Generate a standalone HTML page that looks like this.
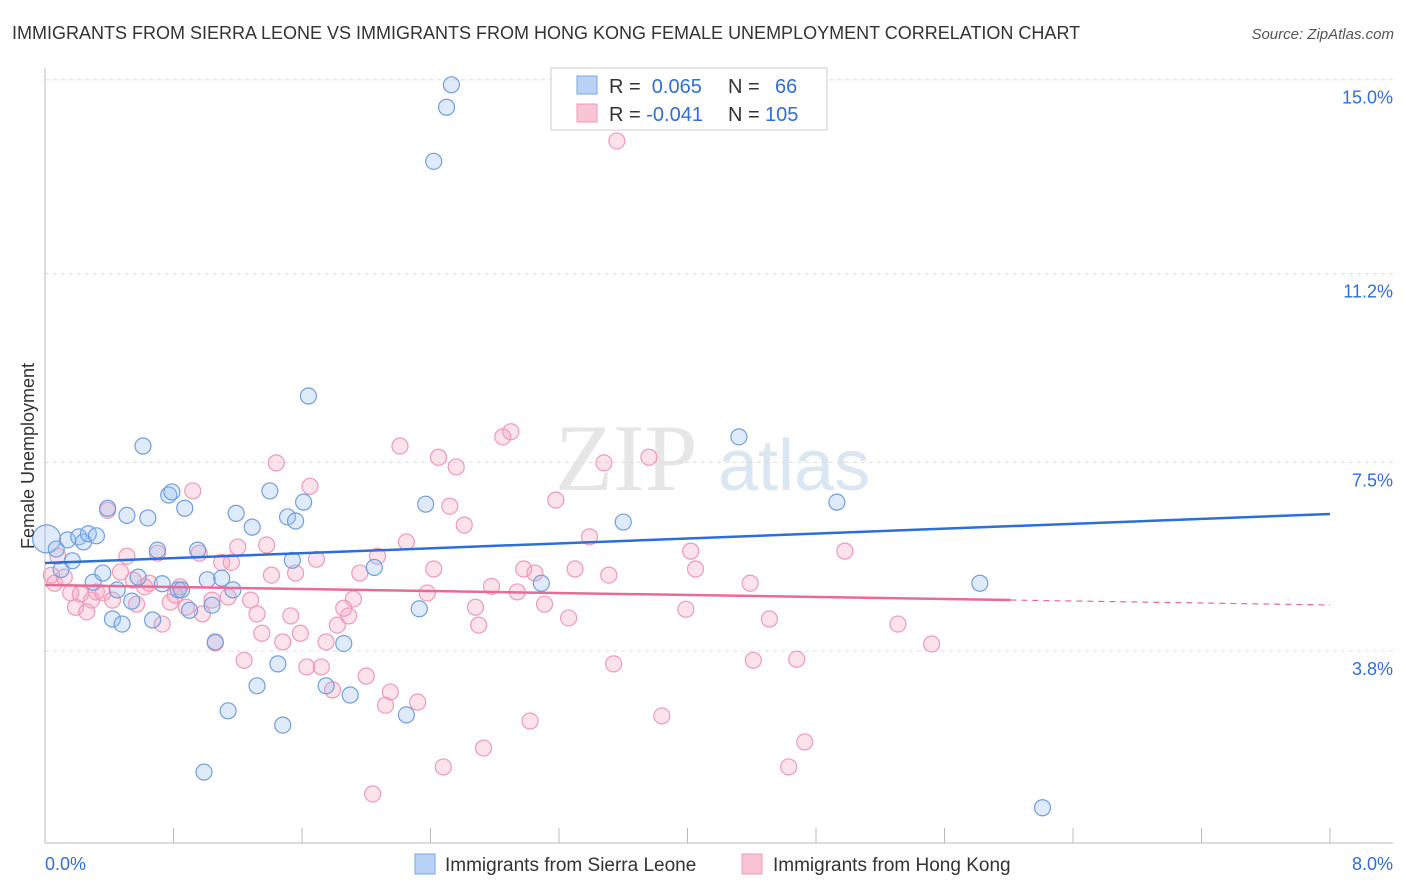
<!DOCTYPE html>
<html><head><meta charset="utf-8">
<style>
body{margin:0;background:#fff;font-family:"Liberation Sans",sans-serif;}
svg{display:block}
</style></head>
<body>
<svg id="chart" width="1406" height="892" xmlns="http://www.w3.org/2000/svg" font-family="Liberation Sans, sans-serif">
<text x="12" y="39" font-size="18" fill="#333">IMMIGRANTS FROM SIERRA LEONE VS IMMIGRANTS FROM HONG KONG FEMALE UNEMPLOYMENT CORRELATION CHART</text>
<text x="1394" y="39" font-size="15" fill="#555" text-anchor="end" font-style="italic">Source: ZipAtlas.com</text>
<text x="555" y="490" font-size="95" fill="#e6e6e6" font-family="Liberation Serif, serif">ZIP</text>
<text x="718" y="490" font-size="72" fill="#dbe6f3">atlas</text>
<g id="grid"></g>
<g id="axes"></g>
<g id="pink-points"></g>
<g id="blue-points"></g>
<g id="lines"></g>
<text transform="translate(34,456) rotate(-90)" font-size="18" fill="#333" text-anchor="middle">Female Unemployment</text>
<g>
<rect x="551" y="68" width="276" height="62" fill="#fff" stroke="#ccc"/>
<rect x="577" y="76" width="20" height="18" fill="#b8d3f5" stroke="#7aa7e0"/>
<rect x="577" y="104" width="20" height="18" fill="#f9c5d4" stroke="#f09ab5"/>
<text x="609" y="93" font-size="20" fill="#333">R = <tspan fill="#2f6fd6">&#160;0.065</tspan><tspan x="728">N = </tspan><tspan x="775" fill="#2f6fd6">66</tspan></text>
<text x="609" y="121" font-size="20" fill="#333">R = <tspan fill="#2f6fd6">-0.041</tspan><tspan x="728">N = </tspan><tspan x="765" fill="#2f6fd6">105</tspan></text>
</g>
<g>
<rect x="415" y="854" width="20" height="20" fill="#b8d3f5" stroke="#7aa7e0"/>
<text x="445" y="871" font-size="19" fill="#333">Immigrants from Sierra Leone</text>
<rect x="742" y="854" width="20" height="20" fill="#f9c5d4" stroke="#f09ab5"/>
<text x="773" y="871" font-size="19" fill="#333">Immigrants from Hong Kong</text>
</g>
</svg>
<script>
const yTicks=[3.8,7.5,11.2,15.0];
const yTickLabels=["3.8%","7.5%","11.2%","15.0%"];
const xTicks=[0,0.8,1.6,2.4,3.2,4.0,4.8,5.6,6.4,7.2,8.0];
const blueX=[0.01,0.07,0.1,0.14,0.17,0.21,0.24,0.27,0.32,0.30,0.36,0.39,0.42,0.45,0.48,0.51,0.54,0.58,0.61,0.64,0.67,0.70,0.73,0.77,0.79,0.83,0.85,0.87,0.90,0.95,0.99,1.01,1.04,1.06,1.10,1.14,1.17,1.19,1.29,1.32,1.40,1.45,1.48,1.51,1.54,1.56,1.61,1.64,1.75,1.86,1.90,2.05,2.25,2.33,2.37,2.42,2.50,2.53,3.09,3.60,4.32,4.93,5.82,6.21];
const blueY=[6.0,5.8,5.4,5.98,5.57,6.04,5.94,6.1,6.06,5.15,5.33,6.6,4.43,5.0,4.33,6.46,4.78,5.25,7.82,6.41,4.41,5.78,5.12,6.86,6.92,5.0,5.0,6.6,4.6,5.78,1.43,5.2,4.7,3.98,5.23,2.63,5.0,6.5,6.23,3.12,6.94,3.55,2.35,6.43,5.58,6.35,6.72,8.8,3.12,3.95,2.94,5.44,2.55,4.63,6.68,13.4,14.46,14.9,5.13,6.33,8.0,6.72,5.13,0.73];
const pinkX=[0.04,0.06,0.08,0.12,0.16,0.19,0.22,0.26,0.29,0.32,0.36,0.39,0.42,0.47,0.51,0.55,0.57,0.62,0.65,0.70,0.73,0.78,0.81,0.84,0.88,0.92,0.96,0.98,1.04,1.06,1.10,1.14,1.16,1.20,1.24,1.28,1.32,1.35,1.38,1.41,1.44,1.48,1.53,1.56,1.59,1.63,1.65,1.69,1.72,1.75,1.79,1.82,1.86,1.89,1.92,1.96,2.00,2.04,2.07,2.12,2.15,2.21,2.25,2.32,2.38,2.42,2.45,2.48,2.52,2.56,2.61,2.68,2.70,2.73,2.78,2.85,2.90,2.94,2.98,3.02,3.05,3.11,3.18,3.26,3.30,3.39,3.48,3.51,3.54,3.56,3.76,3.84,3.99,4.02,4.05,4.39,4.41,4.51,4.63,4.68,4.73,4.98,5.31,5.52];
const pinkY=[5.29,5.13,5.66,5.25,4.94,4.66,4.92,4.57,4.8,4.96,4.94,6.56,4.8,5.35,5.66,5.19,4.72,5.06,5.13,5.72,4.33,4.76,4.9,5.06,4.66,6.94,5.72,4.53,4.8,3.96,5.54,4.86,5.54,5.84,3.62,4.8,4.53,4.15,5.88,5.29,7.49,3.98,4.49,5.33,4.15,3.49,7.03,5.6,3.49,3.98,3.04,4.31,4.64,4.49,4.82,5.33,3.31,1.0,5.66,2.74,3.0,7.82,5.94,2.8,4.94,5.41,7.6,1.53,6.64,7.41,6.27,4.66,4.31,1.9,5.07,8.0,8.1,4.96,5.41,2.43,5.33,4.72,6.76,4.45,5.41,6.04,7.49,5.29,3.55,13.8,7.6,2.53,4.62,5.76,5.41,5.13,3.62,4.43,1.53,3.64,2.02,5.76,4.33,3.94];
const blueTrend=[5.527,6.488];
const pinkTrend=[5.096,4.704];
const NS="http://www.w3.org/2000/svg";
const X0=45,X1=1330,Y0=845,PXY=51.02;
const xs=v=>X0+(v/8)*(X1-X0);
const ys=v=>Y0-v*PXY;
function mk(tag,attrs,parent){const e=document.createElementNS(NS,tag);for(const k in attrs)e.setAttribute(k,attrs[k]);parent.appendChild(e);return e;}
const grid=document.getElementById('grid'),axes=document.getElementById('axes');
yTicks.forEach((t,i)=>{
 const l=mk('line',{x1:45,x2:1393,y1:ys(t),y2:ys(t),stroke:'#ddd','stroke-dasharray':'4,4'},grid);
 
 
 const tx=mk('text',{x:1393,y:ys(t)+24,'font-size':18,fill:'#2f6fd6','text-anchor':'end'},axes);
 tx.textContent=yTickLabels[i];
 
 
});
const ax=mk('line',{x1:45,x2:45,y1:68,y2:843,stroke:'#bbb'},axes);


const bx=mk('line',{x1:45,x2:1393,y1:843,y2:843,stroke:'#bbb'},axes);


xTicks.forEach(t=>{
 const l=mk('line',{x1:xs(t),x2:xs(t),y1:828,y2:843,stroke:'#bbb'},axes);
 
 
});
const xl0=mk('text',{x:45,y:870,'font-size':18,fill:'#2f6fd6'},axes);xl0.textContent='0.0%';


const xl1=mk('text',{x:1393,y:870,'font-size':18,fill:'#2f6fd6','text-anchor':'end'},axes);xl1.textContent='8.0%';


const pp=document.getElementById('pink-points');
pinkX.forEach((v,i)=>{
 const c=mk('circle',{cx:xs(v),cy:ys(pinkY[i]),r:8,fill:'rgba(244,160,188,0.3)',stroke:'#f09ab5','stroke-width':1.2},pp);
 
 
});
const bp=document.getElementById('blue-points');
blueX.forEach((v,i)=>{
 const c=mk('circle',{cx:xs(v),cy:ys(blueY[i]),r:i==0?14:8,fill:'rgba(150,190,240,0.3)',stroke:'#6f9fe0','stroke-width':1.2},bp);
 
 
});
const lg=document.getElementById('lines');
const b=mk('line',{x1:xs(0),y1:ys(blueTrend[0]),x2:xs(8),y2:ys(blueTrend[1]),stroke:'#2c6fd6','stroke-width':2.5},lg);


const solidEnd=6.01;
const pm=pinkTrend[0]+(pinkTrend[1]-pinkTrend[0])*solidEnd/8;
const p1=mk('line',{x1:xs(0),y1:ys(pinkTrend[0]),x2:xs(solidEnd),y2:ys(pm),stroke:'#e96a96','stroke-width':2.5},lg);


const p2=mk('line',{x1:xs(solidEnd),y1:ys(pm),x2:xs(8),y2:ys(pinkTrend[1]),stroke:'#e96a96','stroke-width':1.2,'stroke-dasharray':'6,5'},lg);


</script>
</body></html>
